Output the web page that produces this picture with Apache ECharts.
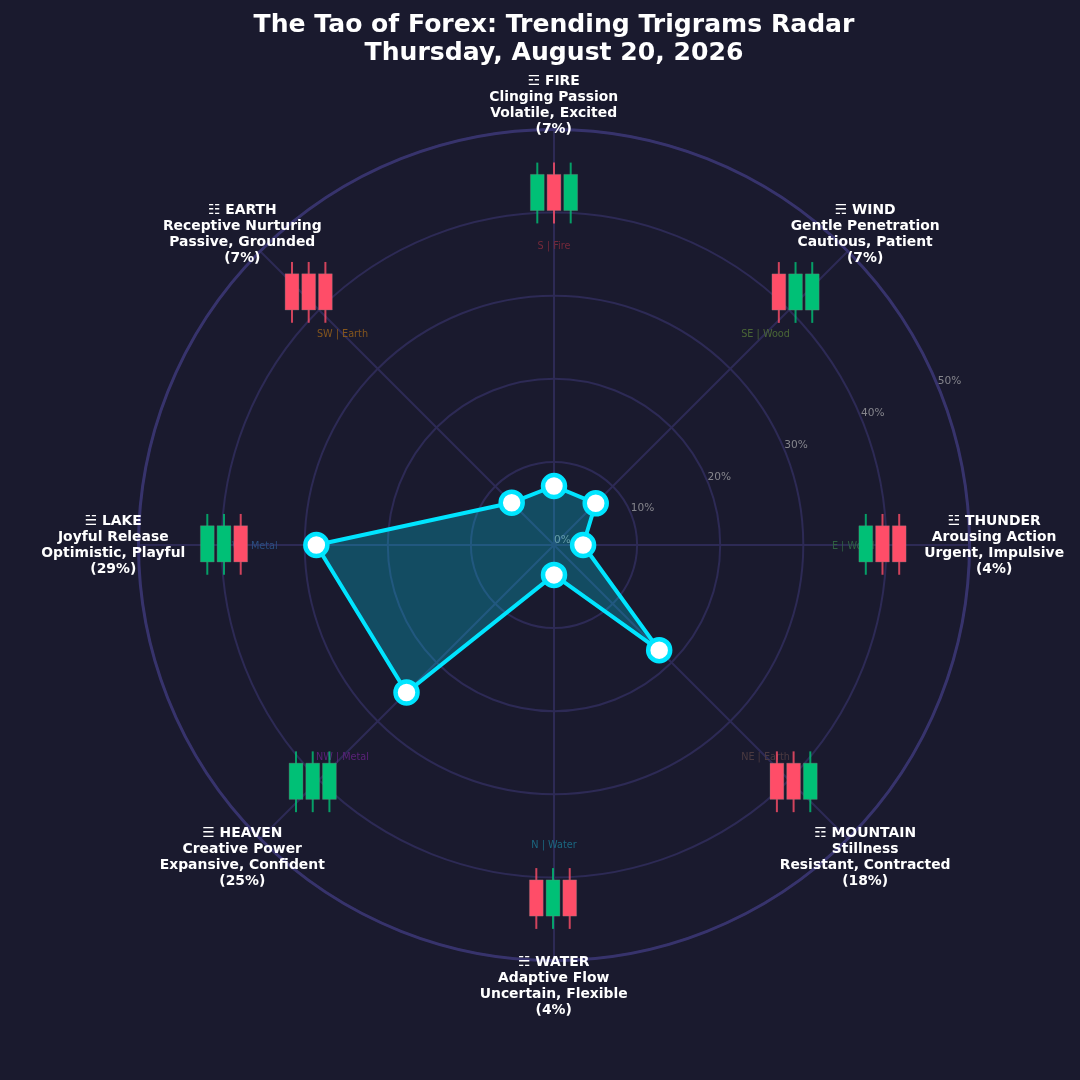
<!DOCTYPE html>
<html>
<head>
<meta charset="utf-8">
<style>html,body{margin:0;padding:0;background:#1a1a2e}#c{width:1080px;height:1080px}</style>
<script src="https://cdn.jsdelivr.net/npm/echarts@6/dist/echarts.min.js"></script>
</head>
<body>
<div id="c"></div>
<script>
// ---- data ----
const titleText = 'The Tao of Forex: Trending Trigrams Radar\nThursday, August 20, 2026';
const trigrams = ['FIRE','WIND','THUNDER','MOUNTAIN','WATER','HEAVEN','LAKE','EARTH'];
const glyphs = ['☲','☴','☳','☶','☵','☰','☱','☷'];
const meanings = ['Clinging Passion','Gentle Penetration','Arousing Action','Stillness','Adaptive Flow','Creative Power','Joyful Release','Receptive Nurturing'];
const moods = ['Volatile, Excited','Cautious, Patient','Urgent, Impulsive','Resistant, Contracted','Uncertain, Flexible','Expansive, Confident','Optimistic, Playful','Passive, Grounded'];
const percentLabels = ['7%','7%','4%','18%','4%','25%','29%','7%'];
const values = [7.1, 7.1, 3.5, 17.9, 3.6, 25.1, 28.6, 7.2];
const sectors = ['S | Fire','SE | Wood','E | Wood','NE | Earth','N | Water','NW | Metal','W | Metal','SW | Earth'];
const candleDirs = [
  ['up','down','up'],
  ['down','up','up'],
  ['up','down','down'],
  ['down','down','up'],
  ['down','up','down'],
  ['up','up','up'],
  ['up','up','down'],
  ['down','down','down']
];
const radialTicks = [0,10,20,30,40,50];

// ---- layout ----
const center = [554, 545];
const R = 415.5, RMAX = 50, UNIT = R / RMAX;
const spokeAngles = trigrams.map((_, i) => i * 45);
const candleRadiusPx = [352.5, 349.8, 328.5, 336.5, 353, 337.7, 330, 352.5];
const candleAngle = [0, 43.67, 89.8, 134.6, 180.16, 225.6, 270.2, 315.9];
const sectorColors = ['#74293a','#4a6636','#2f6142','#4b3a40','#1b6780','#5b2279','#2a4e80','#85561d'];
const BG = '#1a1a2e', GRID = '#2d2a55', OUTER = '#37336c', CYAN = '#00e5ff';
const UP = '#00c076', DOWN = '#ff4d68';

const mainLabels = trigrams.map((t, i) => ({
  value: [53, spokeAngles[i]],
  text: glyphs[i] + ' ' + t + '\n' + meanings[i] + '\n' + moods[i] + '\n(' + percentLabels[i] + ')'
}));
const sectorData = sectors.map((s, i) => ({
  value: [36, spokeAngles[i]],
  label: { color: sectorColors[i] },
  text: s
}));
const candleData = [];
candleDirs.forEach((dirs, i) => dirs.forEach((d, slot) => {
  candleData.push([candleRadiusPx[i] / UNIT, candleAngle[i], slot, d === 'up' ? 1 : 0]);
}));

function renderCandle(params, api) {
  const p = api.coord([api.value(0), api.value(1)]);
  const slot = api.value(2), up = api.value(3) === 1;
  const x = p[0] + (slot - 1) * 16.7;
  const color = up ? UP : DOWN;
  return {
    type: 'group',
    children: [
      { type: 'rect', shape: { x: x - 1, y: p[1] - 29.9, width: 2, height: 60.8 },
        style: { fill: color, opacity: 0.8 } },
      { type: 'rect', shape: { x: x - 6.9, y: p[1] - 18.1, width: 13.8, height: 36.2 },
        style: { fill: color, stroke: 'rgba(128,128,128,0.55)', lineWidth: 0.6 } }
    ]
  };
}

const chart = echarts.init(document.getElementById('c'), null, { renderer: 'canvas' });
chart.setOption({
  backgroundColor: BG,
  animation: false,
  textStyle: { fontFamily: 'DejaVu Sans' },
  title: {
    text: titleText, left: 549, top: 6, textAlign: 'center',
    textStyle: { color: '#fff', fontFamily: 'DejaVu Sans', fontWeight: 'bold', fontSize: 25.1, lineHeight: 28 }
  },
  polar: [
    { center: center, radius: R },
    { center: center, radius: R }
  ],
  angleAxis: [
    { polarIndex: 0, type: 'value', min: 0, max: 360, interval: 45, startAngle: 90, clockwise: true,
      axisLine: { show: true, lineStyle: { color: OUTER, width: 3 } },
      axisTick: { show: false }, axisLabel: { show: false },
      splitLine: { show: true, lineStyle: { color: GRID, width: 2 } } },
    { polarIndex: 1, type: 'value', min: 0, max: 360, startAngle: 22.5, clockwise: true,
      axisLine: { show: false }, axisTick: { show: false }, axisLabel: { show: false }, splitLine: { show: false } }
  ],
  radiusAxis: [
    { polarIndex: 0, type: 'value', min: 0, max: RMAX, interval: 10,
      axisLine: { show: false }, axisTick: { show: false }, axisLabel: { show: false },
      splitLine: { show: true, lineStyle: { color: GRID, width: 2 } } },
    { polarIndex: 1, type: 'value', min: radialTicks[0], max: radialTicks[radialTicks.length - 1], interval: 10,
      axisLine: { show: false }, axisTick: { show: false }, splitLine: { show: false },
      axisLabel: { show: true, formatter: '{value}%', color: '#85858c', fontSize: 10.6, lineHeight: 9, margin: 0, hideOverlap: false,
        align: 'left', verticalAlign: 'bottom', fontFamily: 'DejaVu Sans' } }
  ],
  radar: {
    center: center, radius: R, startAngle: 90, shape: 'circle', splitNumber: 5,
    indicator: [0,7,6,5,4,3,2,1].map(i => ({ name: trigrams[i], min: 0, max: RMAX })),
    axisName: { show: false },
    axisLine: { show: false }, axisTick: { show: false }, axisLabel: { show: false },
    splitLine: { show: false }, splitArea: { show: false }
  },
  series: [
    { type: 'scatter', coordinateSystem: 'polar', polarIndex: 0, clip: false, symbolSize: 0, z: 2, silent: true,
      itemStyle: { opacity: 1 },
      data: sectorData,
      label: { show: true, position: 'inside', opacity: 1, fontSize: 9.7, offset: [0, 1], fontFamily: 'DejaVu Sans', formatter: p => p.data.text } },
    { type: 'custom', coordinateSystem: 'polar', polarIndex: 0, z: 3, silent: true, renderItem: renderCandle,
      data: candleData, encode: { radius: 0, angle: 1 } },
    { type: 'radar', radarIndex: 0, z: 4, silent: true, symbol: 'circle', symbolSize: 22,
      lineStyle: { color: CYAN, width: 4 },
      itemStyle: { color: '#fff', borderColor: CYAN, borderWidth: 4.5 },
      areaStyle: { color: CYAN, opacity: 0.25 },
      data: [{ value: [0,7,6,5,4,3,2,1].map(i => values[i]), name: 'Trigrams' }] },
    { type: 'scatter', coordinateSystem: 'polar', polarIndex: 0, clip: false, symbolSize: 0, z: 5, silent: true,
      itemStyle: { opacity: 1 },
      data: mainLabels,
      label: { show: true, position: 'inside', opacity: 1, offset: [-0.3, 0.6], fontSize: 13.9, lineHeight: 16, fontWeight: 'bold', color: '#fff', align: 'center',
        fontFamily: 'DejaVu Sans', formatter: p => p.data.text } }
  ]
});
</script>
</body>
</html>
